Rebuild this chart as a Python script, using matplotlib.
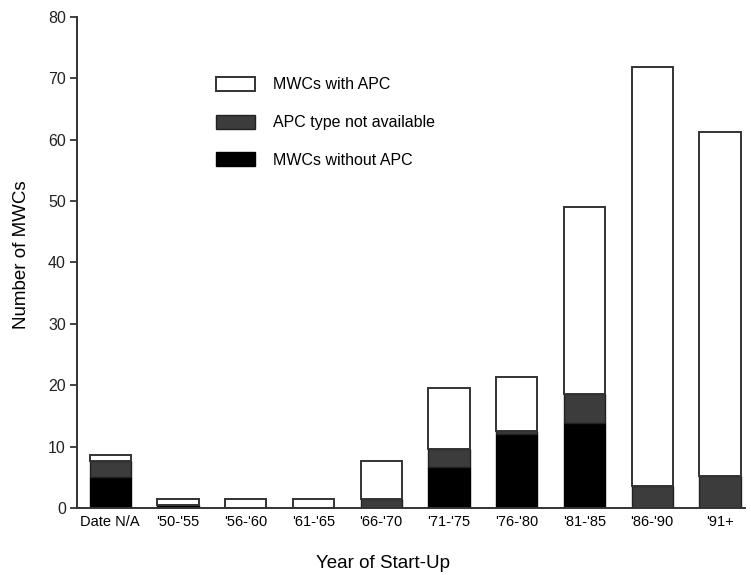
import matplotlib
matplotlib.use("Agg")
import matplotlib.pyplot as plt
import numpy as np

categories = ["Date N/A", "'50-'55", "'56-'60", "'61-'65", "'66-'70",
              "'71-'75", "'76-'80", "'81-'85", "'86-'90", "'91+"]
without_apc = [5.0, 0.5, 0.0, 0.0, 0.0, 6.7, 12.0, 13.8, 0.0, 0.0]
type_na     = [2.7, 0.0, 0.0, 0.0, 1.5, 2.9, 0.5, 4.7, 3.6, 5.2]
with_apc    = [1.0, 1.0, 1.5, 1.5, 6.1, 9.9, 8.9, 30.5, 68.2, 56.0]

yticks = [0, 10, 20, 30, 40, 50, 60, 70, 80]

plt.rcParams['font.family'] = ['Liberation Sans', 'DejaVu Sans']

fig = plt.figure(figsize=(7.51, 5.75), dpi=100)
ax = fig.add_axes([0.1025, 0.1165, 0.8895, 0.854])

x = np.arange(len(categories))
w = 0.61
b1 = np.array(without_apc)
b2 = b1 + np.array(type_na)

h_black = ax.bar(x, without_apc, w, color='black', edgecolor='black', linewidth=1.0,
                 label='MWCs without APC')
h_gray = ax.bar(x, type_na, w, bottom=b1, color='#3c3c3c', edgecolor='#222222', linewidth=1.0,
                label='APC type not available')
h_white = ax.bar(x, with_apc, w, bottom=b2, color='white', edgecolor='#333333', linewidth=1.4,
                 label='MWCs with APC')

ax.set_xlim(-0.49, len(categories) - 0.63)
ax.set_ylim(0, 80)
ax.set_yticks(yticks)
ax.set_xticks(x)
ax.set_xticklabels(categories, fontsize=10.5)
ax.tick_params(axis='x', length=0, pad=5)
ax.tick_params(axis='y', labelsize=11.5, length=5, width=1.2, direction='out', pad=3,
               colors='#222222')
for s in ['top', 'right']:
    ax.spines[s].set_visible(False)
for s in ['left', 'bottom']:
    ax.spines[s].set_linewidth(1.4)
    ax.spines[s].set_color('#333333')

ax.set_ylabel('Number of MWCs', fontsize=13.5)
ax.set_xlabel('Year of Start-Up', fontsize=13.5)
ax.yaxis.label.set_va('center')
ax.xaxis.label.set_va('center')
ax.yaxis.set_label_coords(-0.083, 0.515)
ax.xaxis.set_label_coords(0.458, -0.112)

leg = ax.legend(handles=[h_white, h_gray, h_black], loc='upper left',
                bbox_to_anchor=(0.1955, 0.894), frameon=False, fontsize=11.5,
                handlelength=2.5, handleheight=0.95, labelspacing=1.4,
                handletextpad=1.1, borderpad=0)

fig.savefig('out.png', dpi=100)
